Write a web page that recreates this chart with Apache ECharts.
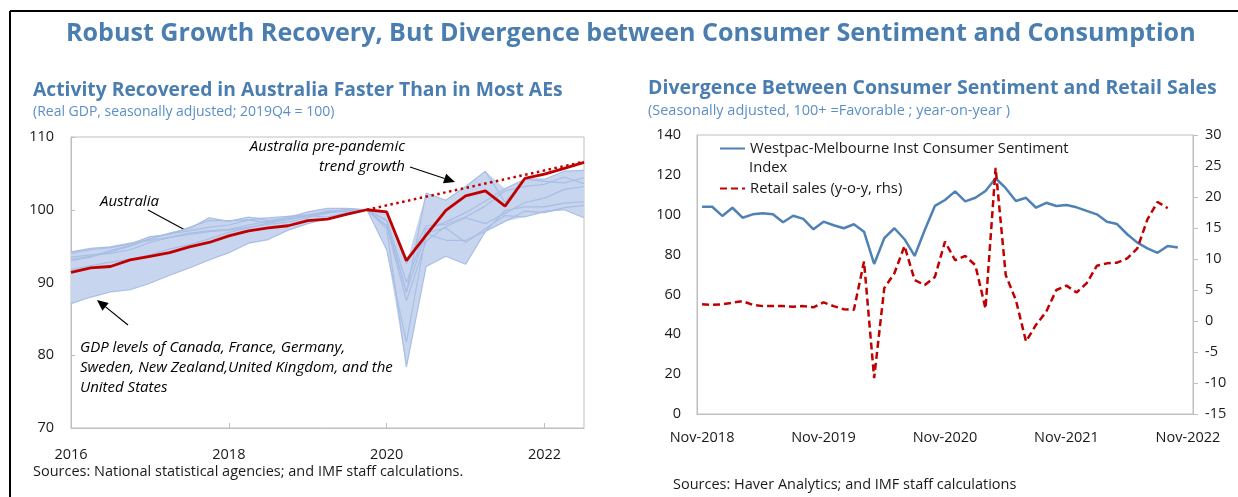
<!DOCTYPE html>
<html>
<head>
<meta charset="utf-8">
<title>Australia: growth recovery and consumer sentiment</title>
<script src="https://cdn.jsdelivr.net/npm/echarts@6/dist/echarts.min.js"></script>
<style>
  html, body { margin: 0; padding: 0; background: #fff; }
  #chart { width: 1238px; height: 497px; }
</style>
</head>
<body>
<div id="chart"></div>
<script>
// ---- left panel: real GDP, 2019Q4 = 100 (2016Q1 .. 2022Q3) ----
var quarters = [];
for (var yr = 2016; yr <= 2022; yr++) {
  for (var q = 1; q <= 4; q++) quarters.push(yr + 'Q' + q);
}
quarters = quarters.slice(0, 27);

var australia = [91.4, 92.0, 92.2, 93.1, 93.6, 94.1, 94.9, 95.5, 96.4, 97.1, 97.5, 97.8, 98.5, 98.7, 99.4, 100.0,
  99.7, 93.0, 96.5, 99.9, 101.9, 102.6, 100.5, 104.3, 104.9, 105.7, 106.5];
// pre-pandemic trend, only its two ends are known
var trend = [null, null, null, null, null, null, null, null, null, null, null, null, null, null, null, 100.0,
  null, null, null, null, null, null, null, null, null, null, 106.6];

var canada = [93.2, 93.6, 94.4, 95.1, 96.0, 96.7, 97.1, 97.6, 97.9, 98.6, 98.9, 99.1, 99.3, 99.6, 99.8, 100,
  97.8, 87.5, 95.7, 97.7, 98.9, 98.1, 99.5, 101.0, 101.6, 102.8, 103.2];
var france = [93.5, 93.8, 94.0, 94.5, 95.5, 96.2, 96.8, 97.1, 97.3, 97.9, 98.4, 98.8, 99.0, 99.5, 100.1, 100,
  94.5, 81.8, 96.7, 95.8, 95.8, 97.0, 99.9, 100.4, 100.4, 100.9, 101.1];
var germany = [94.0, 94.5, 94.8, 95.3, 96.3, 96.6, 97.6, 98.5, 98.5, 98.6, 98.2, 98.6, 99.2, 99.0, 99.6, 100,
  97.8, 88.8, 96.8, 97.5, 95.5, 97.4, 99.2, 99.0, 99.8, 100.0, 98.9];
var sweden = [93.0, 93.5, 94.2, 95.0, 96.0, 96.8, 97.4, 98.9, 98.4, 99.0, 98.5, 98.9, 99.7, 100.2, 100.2, 100,
  99.7, 92.6, 97.8, 98.0, 99.0, 100.5, 102.6, 103.2, 103.5, 104.5, 103.6];
var newZealand = [87.1, 88.0, 88.7, 89.0, 89.9, 91.0, 92.0, 93.1, 94.1, 95.4, 95.9, 97.2, 98.1, 98.8, 99.3, 100,
  98.5, 88.6, 102.3, 101.3, 103.2, 105.3, 101.0, 104.2, 104.2, 105.3, 105.4];
var unitedKingdom = [94.2, 94.7, 94.9, 95.4, 95.8, 96.2, 96.6, 97.0, 97.2, 97.6, 98.0, 98.3, 98.9, 99.8, 99.9, 100,
  97.4, 78.4, 92.2, 93.6, 92.5, 97.0, 98.4, 99.8, 99.6, 100.3, 100.6];
var unitedStates = [91.8, 92.3, 92.8, 93.2, 93.8, 94.6, 95.2, 96.0, 96.9, 97.5, 98.2, 98.9, 99.2, 99.8, 100.0, 100,
  98.6, 90.0, 97.3, 98.3, 99.6, 101.2, 102.9, 104.2, 103.9, 103.7, 104.4];

var peers = [canada, france, germany, sweden, newZealand, unitedKingdom, unitedStates];

// ---- right panel: monthly, Nov-2018 .. Nov-2022 ----
var monthNames = ['Jan', 'Feb', 'Mar', 'Apr', 'May', 'Jun', 'Jul', 'Aug', 'Sep', 'Oct', 'Nov', 'Dec'];
var months = [];
for (var i = 0; i < 49; i++) {
  var m = (10 + i) % 12;
  var y = 2018 + Math.floor((10 + i) / 12);
  months.push(monthNames[m] + '-' + y);
}

var sentiment = [104.0, 104.0, 99.4, 103.5, 98.5, 100.2, 100.7, 100.2, 96.2, 99.5, 97.9, 92.7,
  96.5, 94.7, 93.2, 95.2, 91.5, 75.3, 88.2, 93.2, 87.7, 79.3, 92.3, 104.4,
  107.4, 111.7, 106.7, 108.5, 111.9, 118.3, 113.3, 106.9, 108.5, 103.5, 106.0, 104.4,
  104.9, 103.7, 101.9, 100.2, 96.5, 95.3, 90.2, 86.0, 83.1, 80.9, 84.3, 83.5];
var retailSales = [2.7, 2.6, 2.7, 2.95, 3.2, 2.6, 2.4, 2.4, 2.4, 2.3, 2.4, 2.2,
  3.0, 2.4, 1.9, 1.8, 9.6, -9.2, 5.3, 7.7, 12.1, 6.6, 5.8, 7.1,
  12.8, 9.8, 10.5, 9.0, 2.0, 24.7, 7.4, 3.4, -3.3, -0.6, 1.5, 5.0,
  5.7, 4.6, 6.1, 8.9, 9.3, 9.4, 10.1, 11.7, 16.4, 19.2, 18.2];

// envelope of the peer countries
var bandLow = [], bandSpan = [];
for (var j = 0; j < quarters.length; j++) {
  var vals = peers.map(function (s) { return s[j]; });
  var lo = Math.min.apply(null, vals), hi = Math.max.apply(null, vals);
  bandLow.push(lo);
  bandSpan.push(+(hi - lo).toFixed(2));
}

var FONT = '"Open Sans", "Noto Sans", sans-serif';
var TITLE_BLUE = '#4a7eb0';
var SUB_BLUE = '#5b8fc7';
var AXIS_GREY = '#bfbfbf';
var TEXT = '#1a1a1a';
var RED = '#c00000';
var BAND = '#c7d5ef';
var PEER_LINE = '#a9bee4';
var SENT_BLUE = '#4f81b5';

var blueName = 'Westpac-Melbourne Inst Consumer Sentiment';
var redName = 'Retail sales (y-o-y, rhs)';

function arrow(x1, y1, x2, y2) {
  var a = Math.atan2(y2 - y1, x2 - x1), len = 11, w = 5;
  var bx = x2 - len * Math.cos(a), by = y2 - len * Math.sin(a);
  return [
    { type: 'line', shape: { x1: x1, y1: y1, x2: bx, y2: by }, style: { stroke: '#000', lineWidth: 1.2 } },
    { type: 'polygon', shape: { points: [[x2, y2],
      [bx + w * Math.sin(a), by - w * Math.cos(a)],
      [bx - w * Math.sin(a), by + w * Math.cos(a)]] }, style: { fill: '#000' } }
  ];
}

function note(x, y, text, align) {
  return { type: 'text', x: x, y: y, style: { text: text, fill: '#000', font: 'italic 15px ' + FONT,
    textAlign: align || 'left', textVerticalAlign: 'middle' } };
}

var peerSeries = peers.map(function (s, idx) {
  return {
    name: 'peer' + idx, type: 'line', xAxisIndex: 0, yAxisIndex: 0, data: s,
    symbol: 'none', lineStyle: { color: PEER_LINE, width: 1.2 }, z: 3, silent: true
  };
});

var legendBase = {
  left: 719, padding: 0, orient: 'vertical', itemWidth: 25, itemHeight: 14,
  itemStyle: { opacity: 0 },
  textStyle: { color: TEXT, fontSize: 14.8, fontFamily: FONT }
};

var chart = echarts.init(document.getElementById('chart'));

var option = {
  animation: false,
  textStyle: { fontFamily: FONT },
  title: [
    { text: 'Robust Growth Recovery, But Divergence between Consumer Sentiment and Consumption',
      left: 66, top: 21, padding: 0,
      textStyle: { color: TITLE_BLUE, fontSize: 25.1, fontWeight: 'bold', fontFamily: FONT } },
    { text: 'Activity Recovered in Australia Faster Than in Most AEs',
      subtext: '(Real GDP, seasonally adjusted; 2019Q4 = 100)',
      left: 33, top: 81, padding: 0, itemGap: 5,
      textStyle: { color: TITLE_BLUE, fontSize: 19.3, fontWeight: 'bold', fontFamily: FONT },
      subtextStyle: { color: SUB_BLUE, fontSize: 14, fontFamily: FONT } },
    { text: 'Divergence Between Consumer Sentiment and Retail Sales',
      subtext: '(Seasonally adjusted, 100+ =Favorable ; year-on-year )',
      left: 648, top: 78, padding: 0, itemGap: 5,
      textStyle: { color: TITLE_BLUE, fontSize: 19.5, fontWeight: 'bold', fontFamily: FONT },
      subtextStyle: { color: SUB_BLUE, fontSize: 14.5, fontFamily: FONT } }
  ],
  legend: [
    Object.assign({}, legendBase, { top: 141, data: [blueName] }),
    Object.assign({}, legendBase, { top: 181, data: [redName] })
  ],
  grid: [
    { left: 71, top: 137, width: 513, height: 291, show: true, borderColor: AXIS_GREY, borderWidth: 1 },
    { left: 697, top: 135, width: 496, height: 279, show: true, borderColor: AXIS_GREY, borderWidth: 1 }
  ],
  xAxis: [
    { type: 'category', gridIndex: 0, data: quarters, boundaryGap: false,
      axisLine: { lineStyle: { color: AXIS_GREY } },
      axisTick: { inside: true, interval: 7, length: 5, lineStyle: { color: AXIS_GREY } },
      axisLabel: { interval: 7, margin: 19, color: TEXT, fontSize: 14.5,
        formatter: function (v) { return v.slice(0, 4); } },
      splitLine: { show: false } },
    { type: 'category', gridIndex: 1, data: months, boundaryGap: true,
      axisLine: { lineStyle: { color: AXIS_GREY } },
      axisTick: { inside: true, interval: 11, length: 5, lineStyle: { color: AXIS_GREY } },
      axisLabel: { interval: 11, margin: 16, color: TEXT, fontSize: 14.5 },
      splitLine: { show: false } }
  ],
  yAxis: [
    { type: 'value', gridIndex: 0, min: 70, max: 110, interval: 10,
      axisLine: { show: true, lineStyle: { color: AXIS_GREY } },
      axisTick: { show: true, inside: true, length: 4, lineStyle: { color: AXIS_GREY } },
      axisLabel: { margin: 17, color: TEXT, fontSize: 14.5 },
      splitLine: { show: false } },
    { type: 'value', gridIndex: 1, min: 0, max: 140, interval: 20,
      axisLine: { show: true, lineStyle: { color: AXIS_GREY } },
      axisTick: { show: false },
      axisLabel: { margin: 16, color: TEXT, fontSize: 14.5 },
      splitLine: { show: false } },
    { type: 'value', gridIndex: 1, position: 'right', min: -15, max: 30, interval: 5,
      axisLine: { show: true, lineStyle: { color: AXIS_GREY } },
      axisTick: { show: true, length: 5, lineStyle: { color: AXIS_GREY } },
      axisLabel: { margin: 12, color: TEXT, fontSize: 14.5 },
      splitLine: { show: false } }
  ],
  series: [
    { name: 'bandLow', type: 'line', xAxisIndex: 0, yAxisIndex: 0, data: bandLow, stack: 'band',
      symbol: 'none', lineStyle: { opacity: 0 }, areaStyle: { opacity: 0 }, silent: true, z: 2 },
    { name: 'bandSpan', type: 'line', xAxisIndex: 0, yAxisIndex: 0, data: bandSpan, stack: 'band',
      symbol: 'none', lineStyle: { opacity: 0 }, areaStyle: { color: BAND, opacity: 1 }, silent: true, z: 2 }
  ].concat(peerSeries).concat([
    { name: 'Australia pre-pandemic trend growth', type: 'line', xAxisIndex: 0, yAxisIndex: 0,
      data: trend, connectNulls: true, symbol: 'none', z: 4,
      lineStyle: { color: RED, width: 2.5, type: [2.5, 3.5] } },
    { name: 'Australia', type: 'line', xAxisIndex: 0, yAxisIndex: 0, data: australia,
      symbol: 'none', z: 5, lineStyle: { color: RED, width: 2.8 } },
    { name: blueName, type: 'line', xAxisIndex: 1, yAxisIndex: 1, data: sentiment,
      symbol: 'none', color: SENT_BLUE, lineStyle: { color: SENT_BLUE, width: 2.5 } },
    { name: redName, type: 'line', xAxisIndex: 1, yAxisIndex: 2, data: retailSales,
      symbol: 'none', color: RED, lineStyle: { color: RED, width: 2.5, type: [7, 4] } }
  ]),
  graphic: [
    // frame lines of the cropped figure
    { type: 'line', shape: { x1: 10, y1: 11, x2: 1238, y2: 11 }, style: { stroke: '#000', lineWidth: 2 } },
    { type: 'line', shape: { x1: 10, y1: 11, x2: 10, y2: 497 }, style: { stroke: '#000', lineWidth: 2 } },
    // second line of the sentiment legend entry
    { type: 'text', x: 749, y: 168, style: { text: 'Index', fill: TEXT, font: '14.8px ' + FONT,
      textVerticalAlign: 'middle' } },
    note(405, 147, 'Australia pre-pandemic', 'right'),
    note(405, 167, 'trend growth', 'right'),
    note(100, 202, 'Australia'),
    note(80, 348, 'GDP levels of Canada, France, Germany,'),
    note(80, 368, 'Sweden, New Zealand,United Kingdom, and the'),
    note(80, 388, 'United States'),
    { type: 'text', x: 33, y: 472, style: { text: 'Sources: National statistical agencies; and IMF staff calculations.',
      fill: TEXT, font: '14.5px ' + FONT, textVerticalAlign: 'middle' } },
    { type: 'text', x: 673, y: 485, style: { text: 'Sources: Haver Analytics; and IMF staff calculations',
      fill: TEXT, font: '14.5px ' + FONT, textVerticalAlign: 'middle' } }
  ].concat(arrow(410, 167, 455, 182))
   .concat(arrow(148, 210, 198, 237))
   .concat(arrow(128, 325, 97, 300))
};

chart.setOption(option);
</script>
</body>
</html>
